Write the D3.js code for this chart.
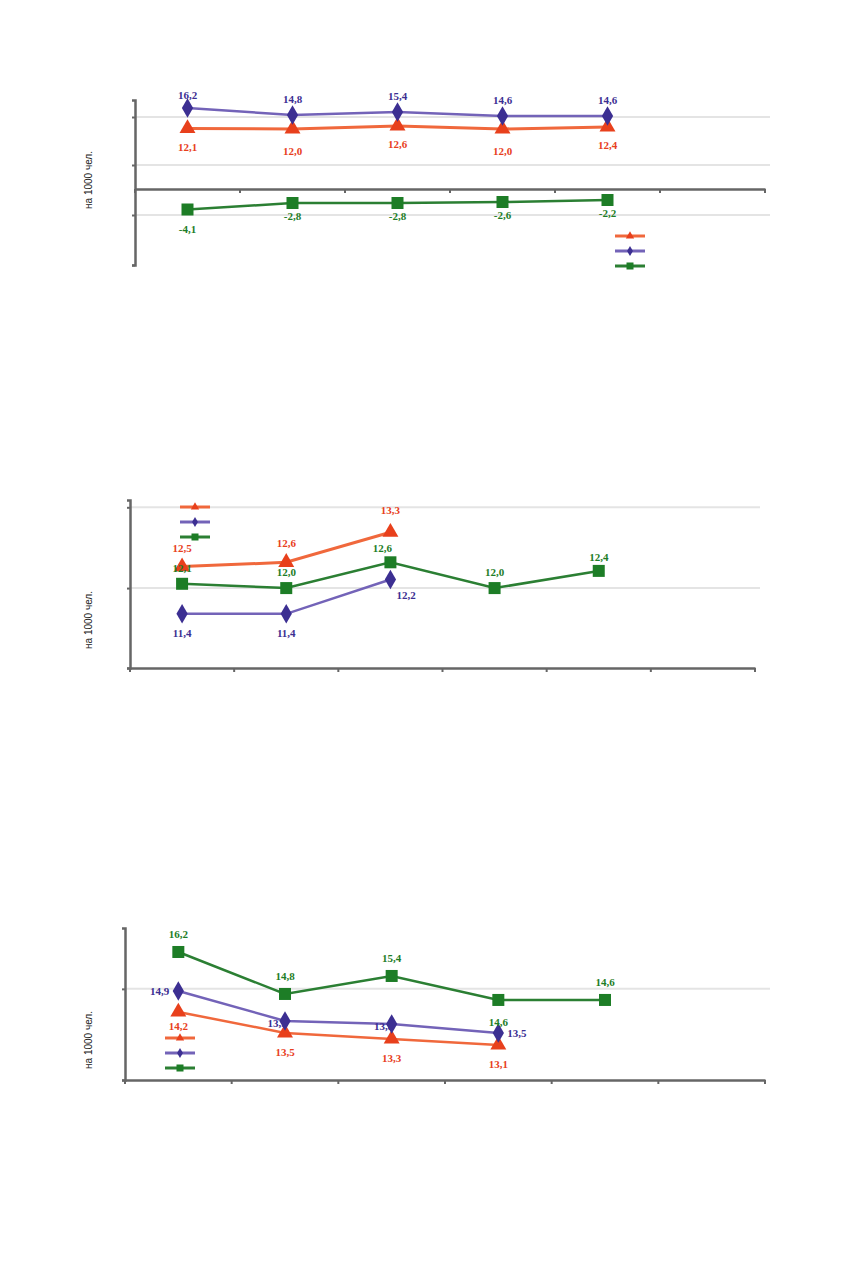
<!DOCTYPE html>
<html><head><meta charset="utf-8">
<script src="https://cdn.jsdelivr.net/npm/d3@7"></script>
<style>body{margin:0;background:#fff}</style></head>
<body><svg id="c" width="856" height="1268"></svg>
<script>
const categories = ["1","2","3","4","5","6"];
// Chart 1
const c1Birth = [12.1, 12.0, 12.6, 12.0, 12.4];
const c1Death = [16.2, 14.8, 15.4, 14.6, 14.6];
const c1Natural = [-4.1, -2.8, -2.8, -2.6, -2.2];
// Chart 2
const c2Red = [12.5, 12.6, 13.3];
const c2Blue = [11.4, 11.4, 12.2];
const c2Green = [12.1, 12.0, 12.6, 12.0, 12.4];
// Chart 3
const c3Red = [14.2, 13.5, 13.3, 13.1];
const c3Blue = [14.9, 13.9, 13.8, 13.5];
const c3Green = [16.2, 14.8, 15.4, 14.6, 14.6];

const RED="#e8401c", REDL="#f0683c", BLUE="#3c2f92", BLUEL="#7363b8", GREEN="#1d7d26", GREENL="#2b7f33";
const svg = d3.select("#c");
const fmt = v => String(v.toFixed(1)).replace(".", ",");

function chart(o){
  const g = svg.append("g");
  const x = d3.scaleBand().domain(categories).range([o.x0,o.x1]);
  const y = d3.scaleLinear().domain(o.dom).range([o.yb,o.yt]);
  o.grid.forEach(v=>g.append("line").attr("x1",o.x0).attr("x2",o.x1+5).attr("y1",y(v)).attr("y2",y(v)).attr("stroke","#e4e4e4").attr("stroke-width",2));
  // x axis
  const ax = g.append("g").attr("transform",`translate(0,${y(o.xAt)})`).call(d3.axisBottom(x).tickValues([]).tickSizeOuter(0));
  ax.select(".domain").attr("stroke","#666").attr("stroke-width",2.5);
  x.domain().concat(["end"]).forEach((c,i)=>{const xx=o.x0+i*x.bandwidth(); ax.append("line").attr("x1",xx).attr("x2",xx).attr("y1",0).attr("y2",4).attr("stroke","#666").attr("stroke-width",2);});
  const ay = g.append("g").attr("transform",`translate(${o.x0},0)`).call(d3.axisLeft(y).tickValues(o.grid.concat([o.dom[0]])).tickSize(3).tickFormat(""));
  ay.select(".domain").attr("stroke","#666").attr("stroke-width",2.5);
  ay.selectAll(".tick line").attr("stroke","#666").attr("stroke-width",2);
  g.append("text").attr("transform",`translate(${o.titleX},${o.titleY}) rotate(-90)`).attr("text-anchor","middle")
    .attr("font-family","Liberation Sans, Arial").attr("font-size",10).attr("fill","#222").text("на 1000 чел.");
  const cx = i => x(categories[i]) + x.bandwidth()/2;
  o.series.forEach(s=>{
    g.append("path").datum(s.v).attr("fill","none").attr("stroke",s.lc).attr("stroke-width",s.lw||2.5)
      .attr("d",d3.line().x((d,i)=>cx(i)).y(d=>y(d)));
    s.v.forEach((d,i)=>{
      const px=cx(i), py=y(d);
      if(s.m==="tri") g.append("path").attr("d",d3.symbol(d3.symbolTriangle,110)()).attr("transform",`translate(${px},${py})`).attr("fill",s.c);
      else if(s.m==="dia") g.append("path").attr("d",d3.symbol(d3.symbolDiamond,110)()).attr("transform",`translate(${px},${py})`).attr("fill",s.c);
      else g.append("rect").attr("x",px-6).attr("y",py-6).attr("width",12).attr("height",12).attr("fill",s.c);
      const off = s.off(i);
      g.append("text").attr("x",px+off[0]).attr("y",py+off[1]).attr("text-anchor",off[2]||"middle")
        .attr("font-family","Liberation Serif, Times New Roman").attr("font-weight","bold").attr("font-size",11)
        .attr("fill",s.c).text(fmt(d));
    });
  });
  // legend
  o.series.forEach((s,k)=>{
    const ly=o.ly+k*o.lstep;
    g.append("line").attr("x1",o.lx).attr("x2",o.lx+30).attr("y1",ly).attr("y2",ly).attr("stroke",s.lc).attr("stroke-width",3);
    const p=o.lx+15;
    if(s.m==="tri") g.append("path").attr("d",d3.symbol(d3.symbolTriangle,30)()).attr("transform",`translate(${p},${ly})`).attr("fill",s.c);
    else if(s.m==="dia") g.append("path").attr("d",d3.symbol(d3.symbolDiamond,30)()).attr("transform",`translate(${p},${ly})`).attr("fill",s.c);
    else g.append("rect").attr("x",p-3.5).attr("y",ly-3.5).attr("width",7).attr("height",7).attr("fill",s.c);
  });
}

chart({x0:135,x1:765,yt:100,yb:265,dom:[-15.2,17.8],grid:[14.4,4.8,-5.2],xAt:0,titleX:92,titleY:180,
  lx:615,ly:236,lstep:15,
  series:[
    {v:c1Birth,c:RED,lc:REDL,m:"tri",lw:3,off:i=>[0,i%2?26:22]},
    {v:c1Death,c:BLUE,lc:BLUEL,m:"dia",off:i=>[0,i===0?-9:-12]},
    {v:c1Natural,c:GREEN,lc:GREENL,m:"sq",off:i=>[0,i===0?23:17]}
  ]});

chart({x0:130,x1:755,yt:500,yb:668,dom:[10.14,14.05],grid:[13.88,12.0],xAt:10.14,titleX:92,titleY:620,
  lx:180,ly:507,lstep:15,
  series:[
    {v:c2Red,c:RED,lc:REDL,m:"tri",lw:3,off:i=>[0,i===2?-18:-15]},
    {v:c2Blue,c:BLUE,lc:BLUEL,m:"dia",off:i=>i===2?[6,20,"start"]:[0,23]},
    {v:c2Green,c:GREEN,lc:GREENL,m:"sq",off:i=>[i===2?-8:0,i===2?-10:(i===4?-10:-12)]}
  ]});

chart({x0:125,x1:765,yt:928,yb:1080,dom:[11.93,17],grid:[14.97],xAt:11.93,titleX:92,titleY:1040,
  lx:165,ly:1038,lstep:15,
  series:[
    {v:c3Red,c:RED,lc:REDL,m:"tri",lw:2.5,off:i=>[0,i===0?18:23]},
    {v:c3Blue,c:BLUE,lc:BLUEL,m:"dia",off:i=>i===0?[-9,4,"end"]:(i===3?[9,4,"start"]:[-8,6])},
    {v:c3Green,c:GREEN,lc:GREENL,m:"sq",off:i=>i===3?[0,26]:[0,-14]}
  ]});
</script></body></html>
